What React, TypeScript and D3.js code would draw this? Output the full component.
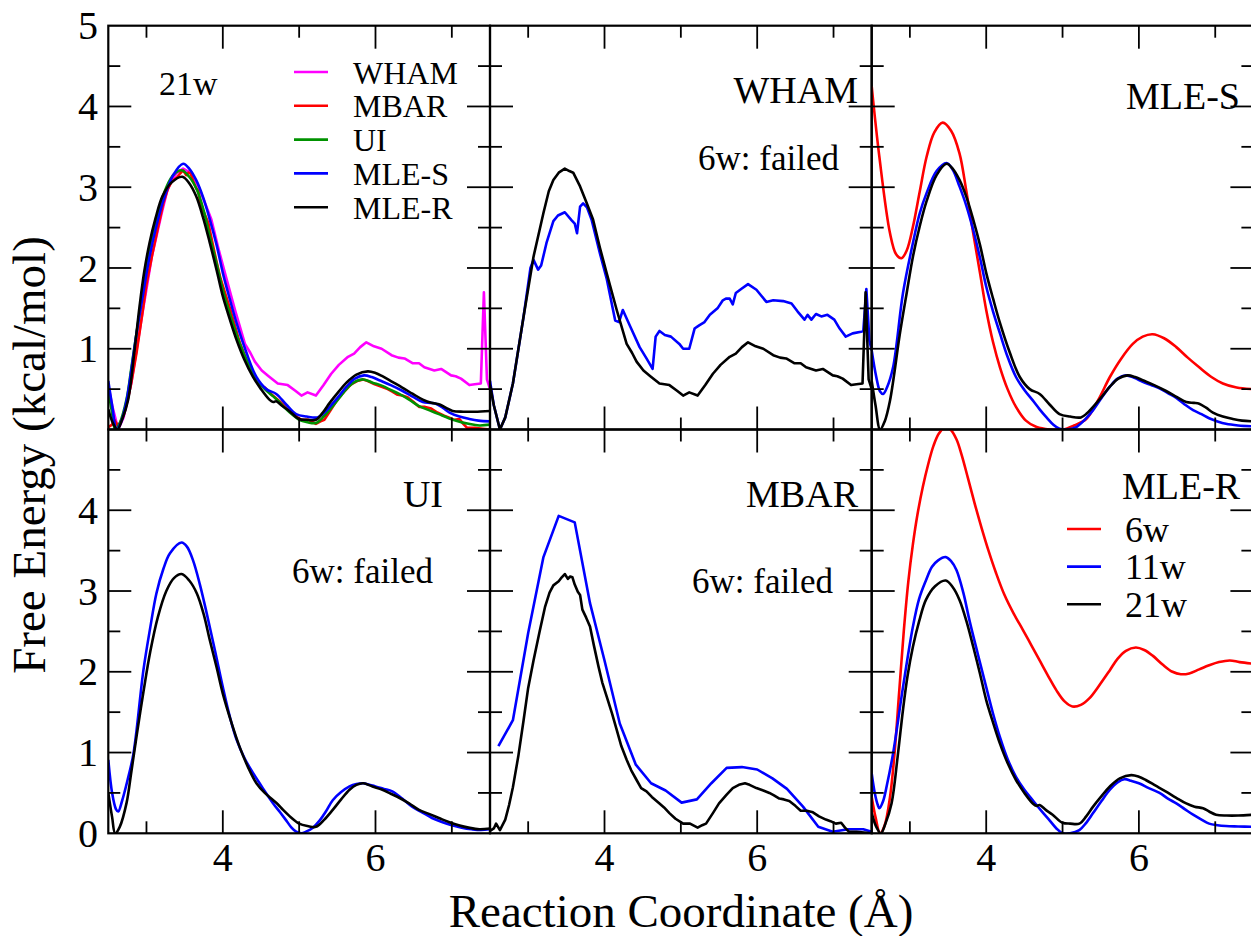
import React from "react";
import * as d3 from "d3";

type P = [number, number];

// ---------- DATA (reaction coordinate Å, free energy kcal/mol) ----------
const WHAM_21w: P[] = [[2.5,0.55],[2.55,0.3],[2.63,0.0],[2.7,0.15],[2.8,0.57],[2.94,1.40],[3.07,2.14],[3.2,2.68],[3.27,2.95],[3.33,3.09],[3.4,3.18],[3.48,3.23],[3.54,3.2],[3.59,3.18],[3.68,3.01],[3.76,2.82],[3.85,2.6],[3.94,2.25],[4.03,1.93],[4.16,1.48],[4.29,1.06],[4.36,0.95],[4.42,0.84],[4.51,0.73],[4.6,0.66],[4.72,0.57],[4.85,0.55],[4.95,0.48],[5.03,0.42],[5.11,0.46],[5.22,0.42],[5.32,0.55],[5.42,0.69],[5.52,0.8],[5.64,0.90],[5.72,0.94],[5.8,1.02],[5.88,1.08],[5.98,1.03],[6.08,1.0],[6.21,0.92],[6.3,0.89],[6.38,0.88],[6.49,0.82],[6.57,0.82],[6.64,0.77],[6.77,0.73],[6.86,0.75],[6.99,0.67],[7.05,0.66],[7.12,0.63],[7.23,0.55],[7.3,0.56],[7.38,0.57],[7.42,1.70],[7.46,0.62],[7.5,0.5]];
const WHAM_11w: P[] = [[2.5,0.6],[2.55,0.3],[2.63,0.0],[2.7,0.15],[2.8,0.57],[2.94,1.40],[3.03,2.0],[3.07,2.1],[3.13,1.98],[3.17,2.03],[3.24,2.31],[3.33,2.58],[3.39,2.65],[3.48,2.69],[3.57,2.59],[3.61,2.55],[3.64,2.43],[3.68,2.76],[3.72,2.80],[3.77,2.75],[3.83,2.6],[3.94,2.18],[4.03,1.86],[4.14,1.35],[4.19,1.33],[4.24,1.48],[4.34,1.27],[4.46,1.02],[4.55,0.88],[4.63,0.75],[4.67,1.15],[4.72,1.22],[4.79,1.17],[4.87,1.15],[4.98,1.06],[5.03,1.0],[5.11,1.0],[5.18,1.25],[5.24,1.29],[5.31,1.33],[5.38,1.42],[5.48,1.5],[5.55,1.6],[5.59,1.62],[5.64,1.62],[5.68,1.55],[5.72,1.69],[5.79,1.74],[5.88,1.80],[5.99,1.73],[6.12,1.58],[6.21,1.6],[6.34,1.59],[6.45,1.56],[6.53,1.46],[6.62,1.36],[6.66,1.42],[6.71,1.36],[6.77,1.43],[6.84,1.40],[6.92,1.42],[7.01,1.36],[7.08,1.25],[7.16,1.15],[7.25,1.19],[7.36,1.21],[7.39,1.22],[7.43,1.74],[7.47,1.1],[7.5,0.98]];

const MLES_6w: P[] = [[2.5,4.25],[2.6,3.38],[2.74,2.43],[2.82,2.17],[2.89,2.12],[2.96,2.22],[3.04,2.51],[3.13,2.95],[3.22,3.38],[3.32,3.68],[3.43,3.80],[3.54,3.7],[3.65,3.42],[3.74,2.95],[3.83,2.43],[3.92,1.93],[4.0,1.48],[4.09,1.08],[4.18,0.77],[4.28,0.5],[4.39,0.28],[4.52,0.11],[4.66,0.03],[4.83,0.0],[5.0,0.0],[5.15,0.05],[5.31,0.13],[5.47,0.37],[5.62,0.65],[5.77,0.88],[5.92,1.06],[6.05,1.15],[6.18,1.18],[6.33,1.13],[6.49,1.02],[6.64,0.89],[6.79,0.77],[6.95,0.65],[7.1,0.57],[7.28,0.52],[7.5,0.5]];
const MLES_11w: P[] = [[2.5,0.98],[2.56,0.65],[2.61,0.47],[2.65,0.44],[2.7,0.52],[2.78,0.77],[2.91,1.69],[3.04,2.31],[3.13,2.68],[3.22,2.93],[3.35,3.2],[3.48,3.30],[3.56,3.22],[3.65,3.01],[3.74,2.77],[3.83,2.47],[3.92,2.12],[4.0,1.77],[4.09,1.46],[4.18,1.19],[4.28,0.9],[4.39,0.65],[4.5,0.49],[4.61,0.36],[4.7,0.25],[4.79,0.15],[4.88,0.06],[4.96,0.01],[5.05,0.0],[5.18,0.03],[5.29,0.12],[5.4,0.24],[5.51,0.39],[5.62,0.53],[5.72,0.63],[5.83,0.67],[5.94,0.64],[6.05,0.59],[6.16,0.55],[6.27,0.51],[6.38,0.45],[6.49,0.39],[6.6,0.31],[6.71,0.24],[6.82,0.19],[6.92,0.14],[7.03,0.1],[7.14,0.07],[7.3,0.05],[7.5,0.04]];
const MLES_21w: P[] = [[2.5,0.6],[2.55,0.3],[2.61,0.0],[2.67,0.1],[2.74,0.36],[2.87,1.19],[2.96,1.7],[3.04,2.14],[3.13,2.52],[3.22,2.83],[3.35,3.15],[3.48,3.29],[3.56,3.23],[3.65,3.09],[3.74,2.88],[3.83,2.6],[3.92,2.28],[4.0,1.94],[4.09,1.62],[4.18,1.32],[4.31,0.95],[4.44,0.65],[4.57,0.5],[4.7,0.44],[4.83,0.31],[4.96,0.19],[5.1,0.16],[5.24,0.15],[5.32,0.2],[5.4,0.28],[5.51,0.4],[5.62,0.53],[5.73,0.63],[5.85,0.67],[5.95,0.65],[6.05,0.61],[6.2,0.55],[6.35,0.48],[6.5,0.4],[6.62,0.34],[6.72,0.33],[6.79,0.32],[6.88,0.27],[6.97,0.21],[7.1,0.16],[7.23,0.13],[7.35,0.11],[7.5,0.1]];

const UI_11w: P[] = [[2.5,0.91],[2.55,0.5],[2.6,0.3],[2.63,0.27],[2.68,0.4],[2.75,0.65],[2.83,0.99],[2.96,2.02],[3.05,2.55],[3.13,2.97],[3.22,3.27],[3.31,3.47],[3.46,3.60],[3.53,3.55],[3.61,3.38],[3.7,3.08],[3.79,2.72],[3.9,2.25],[4.0,1.81],[4.09,1.45],[4.18,1.16],[4.29,0.92],[4.4,0.74],[4.53,0.55],[4.66,0.37],[4.75,0.26],[4.83,0.16],[4.9,0.07],[4.96,0.02],[5.03,0.0],[5.09,0.02],[5.18,0.07],[5.27,0.16],[5.35,0.27],[5.44,0.41],[5.55,0.51],[5.66,0.58],[5.75,0.61],[5.84,0.62],[5.92,0.6],[6.0,0.58],[6.11,0.55],[6.22,0.52],[6.35,0.43],[6.48,0.33],[6.61,0.26],[6.74,0.19],[6.87,0.14],[7.0,0.1],[7.13,0.07],[7.26,0.05],[7.38,0.04],[7.5,0.05]];
const UI_21w: P[] = [[2.5,0.5],[2.55,0.2],[2.59,0.0],[2.65,0.08],[2.74,0.38],[2.8,0.75],[2.87,1.2],[2.96,1.75],[3.05,2.25],[3.15,2.68],[3.26,3.0],[3.36,3.16],[3.46,3.21],[3.56,3.13],[3.66,2.97],[3.75,2.71],[3.83,2.39],[3.92,2.05],[4.0,1.73],[4.11,1.38],[4.22,1.07],[4.33,0.82],[4.44,0.62],[4.55,0.5],[4.66,0.41],[4.72,0.36],[4.79,0.29],[4.89,0.2],[5.0,0.12],[5.11,0.09],[5.22,0.08],[5.33,0.17],[5.44,0.29],[5.55,0.42],[5.66,0.54],[5.75,0.6],[5.84,0.62],[5.96,0.58],[6.09,0.54],[6.2,0.49],[6.31,0.44],[6.44,0.37],[6.57,0.29],[6.7,0.24],[6.83,0.19],[6.96,0.14],[7.09,0.1],[7.22,0.07],[7.36,0.05],[7.5,0.06]];

const MBAR_11w: P[] = [[2.61,1.08],[2.8,1.40],[3.0,2.48],[3.2,3.42],[3.40,3.93],[3.61,3.85],[3.81,2.85],[4.0,2.14],[4.2,1.36],[4.41,0.85],[4.61,0.62],[4.80,0.53],[5.01,0.38],[5.21,0.42],[5.4,0.62],[5.60,0.81],[5.80,0.82],[6.0,0.79],[6.2,0.68],[6.39,0.55],[6.6,0.33],[6.8,0.08],[6.99,0.02],[7.19,0.05],[7.39,0.05],[7.5,0.02]];
const MBAR_21w: P[] = [[2.5,0.03],[2.55,0.06],[2.58,0.12],[2.63,0.04],[2.7,0.17],[2.75,0.35],[2.8,0.57],[2.87,0.95],[2.94,1.40],[3.0,1.8],[3.07,2.14],[3.15,2.5],[3.22,2.8],[3.28,2.98],[3.33,3.07],[3.4,3.12],[3.44,3.17],[3.48,3.21],[3.52,3.15],[3.55,3.18],[3.58,3.17],[3.61,3.08],[3.65,2.99],[3.68,2.95],[3.71,2.77],[3.76,2.67],[3.81,2.56],[3.86,2.33],[3.92,2.07],[3.97,1.87],[4.03,1.69],[4.1,1.48],[4.16,1.28],[4.22,1.08],[4.29,0.91],[4.35,0.78],[4.42,0.66],[4.48,0.56],[4.55,0.52],[4.62,0.45],[4.72,0.37],[4.78,0.32],[4.85,0.25],[4.93,0.18],[5.03,0.12],[5.12,0.12],[5.22,0.07],[5.28,0.1],[5.33,0.12],[5.42,0.25],[5.5,0.37],[5.6,0.48],[5.68,0.56],[5.76,0.6],[5.84,0.62],[5.9,0.6],[5.99,0.56],[6.08,0.53],[6.16,0.5],[6.22,0.47],[6.29,0.43],[6.35,0.42],[6.42,0.4],[6.5,0.34],[6.57,0.28],[6.65,0.28],[6.73,0.26],[6.81,0.21],[6.9,0.17],[6.96,0.15],[7.03,0.12],[7.1,0.13],[7.15,0.07],[7.2,0.02],[7.3,0.02],[7.4,0.01],[7.5,0.0]];

const MLER_6w: P[] = [[2.5,0.45],[2.55,0.2],[2.61,0.0],[2.67,0.1],[2.74,0.45],[2.8,1.0],[2.86,1.75],[2.92,2.5],[2.98,3.12],[3.04,3.58],[3.1,3.95],[3.17,4.29],[3.24,4.57],[3.31,4.8],[3.38,4.95],[3.46,5.03],[3.53,5.0],[3.61,4.88],[3.68,4.68],[3.76,4.4],[3.85,4.08],[3.94,3.78],[4.03,3.5],[4.13,3.22],[4.24,2.95],[4.36,2.72],[4.48,2.52],[4.59,2.33],[4.7,2.14],[4.81,1.95],[4.92,1.77],[5.03,1.63],[5.13,1.57],[5.24,1.59],[5.35,1.67],[5.48,1.83],[5.62,2.02],[5.72,2.16],[5.83,2.26],[5.96,2.30],[6.07,2.27],[6.18,2.2],[6.31,2.09],[6.44,2.0],[6.55,1.97],[6.66,1.98],[6.79,2.03],[6.92,2.08],[7.05,2.12],[7.19,2.14],[7.32,2.12],[7.5,2.1]];
const MLER_11w: P[] = [[2.5,0.74],[2.54,0.5],[2.58,0.35],[2.6,0.31],[2.65,0.4],[2.7,0.6],[2.78,0.99],[2.91,1.81],[3.04,2.56],[3.12,2.9],[3.21,3.13],[3.29,3.3],[3.37,3.38],[3.47,3.42],[3.54,3.37],[3.61,3.26],[3.7,2.98],[3.78,2.64],[3.89,2.22],[4.0,1.81],[4.09,1.48],[4.18,1.19],[4.28,0.92],[4.39,0.70],[4.5,0.54],[4.61,0.41],[4.72,0.28],[4.83,0.16],[4.92,0.06],[5.0,0.0],[5.1,0.0],[5.22,0.04],[5.31,0.13],[5.4,0.25],[5.51,0.4],[5.62,0.54],[5.72,0.63],[5.81,0.67],[5.9,0.65],[6.0,0.62],[6.13,0.56],[6.27,0.5],[6.38,0.43],[6.49,0.37],[6.6,0.3],[6.71,0.23],[6.82,0.17],[6.92,0.12],[7.03,0.1],[7.14,0.09],[7.3,0.085],[7.5,0.08]];
const MLER_21w: P[] = [[2.5,0.25],[2.56,0.08],[2.62,0.0],[2.68,0.12],[2.76,0.37],[2.84,0.95],[2.91,1.53],[2.97,1.95],[3.04,2.31],[3.12,2.62],[3.21,2.89],[3.33,3.06],[3.47,3.13],[3.56,3.05],[3.65,2.89],[3.74,2.63],[3.83,2.31],[3.92,1.97],[4.0,1.65],[4.09,1.37],[4.18,1.11],[4.28,0.87],[4.39,0.66],[4.5,0.5],[4.61,0.37],[4.66,0.34],[4.7,0.35],[4.78,0.29],[4.87,0.23],[5.0,0.13],[5.1,0.12],[5.22,0.12],[5.31,0.21],[5.4,0.33],[5.51,0.46],[5.62,0.58],[5.75,0.68],[5.9,0.72],[6.0,0.7],[6.09,0.66],[6.22,0.59],[6.35,0.52],[6.49,0.44],[6.62,0.37],[6.73,0.33],[6.84,0.31],[6.92,0.27],[7.01,0.23],[7.15,0.22],[7.3,0.22],[7.5,0.23]];

const X_DOMAIN: [number, number] = [2.5, 7.5];
const Y_DOMAIN: [number, number] = [0, 5];
const X_MAJOR = [4, 6];
const X_MINOR = [3, 5, 7];
const Y_MAJOR = [1, 2, 3, 4];
const Y_MINOR = [0.5, 1.5, 2.5, 3.5, 4.5];
const Y_LABELS_TOP = [1, 2, 3, 4, 5];
const Y_LABELS_BOTTOM = [0, 1, 2, 3, 4];
const LEGEND_21W = ["WHAM", "MBAR", "UI", "MLE-S", "MLE-R"];
const LEGEND_MLER = ["6w", "11w", "21w"];

// ---------- LAYOUT / STYLE ----------
const W = 1251, H = 936;
const X0 = 108.3, COLW = 381.7, TOP = 25.7, ROWH = 403.8;
const FONT = "'Liberation Serif', 'Times New Roman', 'DejaVu Serif', serif";
const C = { mag: "#ff00ff", red: "#ff0000", green: "#009200", blue: "#0000ff", black: "#000000" };

type S = { data: P[]; color: string; smooth: boolean };
type Panel = { col: number; row: number; series: S[] };

const panels: Panel[] = [
  { col: 0, row: 0, series: [
    { data: WHAM_21w, color: C.mag, smooth: false },
    { data: MBAR_21w, color: C.red, smooth: false },
    { data: UI_21w, color: C.green, smooth: true },
    { data: MLES_21w, color: C.blue, smooth: true },
    { data: MLER_21w, color: C.black, smooth: true },
  ]},
  { col: 1, row: 0, series: [
    { data: WHAM_11w, color: C.blue, smooth: false },
    { data: WHAM_21w, color: C.black, smooth: false },
  ]},
  { col: 2, row: 0, series: [
    { data: MLES_6w, color: C.red, smooth: true },
    { data: MLES_11w, color: C.blue, smooth: true },
    { data: MLES_21w, color: C.black, smooth: true },
  ]},
  { col: 0, row: 1, series: [
    { data: UI_11w, color: C.blue, smooth: true },
    { data: UI_21w, color: C.black, smooth: true },
  ]},
  { col: 1, row: 1, series: [
    { data: MBAR_11w, color: C.blue, smooth: false },
    { data: MBAR_21w, color: C.black, smooth: false },
  ]},
  { col: 2, row: 1, series: [
    { data: MLER_6w, color: C.red, smooth: true },
    { data: MLER_11w, color: C.blue, smooth: true },
    { data: MLER_21w, color: C.black, smooth: true },
  ]},
];

function scales(col: number, row: number) {
  const x = d3.scaleLinear().domain(X_DOMAIN).range([X0 + col * COLW, X0 + (col + 1) * COLW]);
  const y = d3.scaleLinear().domain(Y_DOMAIN).range([TOP + (row + 1) * ROWH, TOP + row * ROWH]);
  return { x, y };
}

function PanelView({ p, i }: { p: Panel; i: number }) {
  const { x, y } = scales(p.col, p.row);
  const [xl, xr] = x.range();
  const [yb, yt] = y.range();
  const MAJ = 23, MIN = 12;
  const ticks: any[] = [];
  const tk = (x1: number, y1: number, x2: number, y2: number, k: string) =>
    ticks.push(<line key={k} x1={x1} y1={y1} x2={x2} y2={y2} stroke="#000" strokeWidth={1.8} />);
  X_MAJOR.forEach((v) => { tk(x(v), yb, x(v), yb - MAJ, "xb" + v); tk(x(v), yt, x(v), yt + MAJ, "xt" + v); });
  X_MINOR.forEach((v) => { tk(x(v), yb, x(v), yb - MIN, "xbm" + v); tk(x(v), yt, x(v), yt + MIN, "xtm" + v); });
  Y_MAJOR.forEach((v) => { tk(xl, y(v), xl + MAJ, y(v), "yl" + v); tk(xr, y(v), xr - MAJ, y(v), "yr" + v); });
  Y_MINOR.forEach((v) => { tk(xl, y(v), xl + MIN, y(v), "ylm" + v); tk(xr, y(v), xr - MIN, y(v), "yrm" + v); });
  const clipId = "clip" + i;
  return (
    <g>
      <defs>
        <clipPath id={clipId}><rect x={xl} y={yt} width={xr - xl} height={yb - yt} /></clipPath>
      </defs>
      <g clipPath={`url(#${clipId})`}>
        {p.series.map((s, j) => {
          const gen = d3.line<P>().x((d) => x(d[0])).y((d) => y(d[1]))
            .curve(s.smooth ? d3.curveCatmullRom.alpha(0.5) : d3.curveLinear);
          return <path key={j} d={gen(s.data) || ""} fill="none" stroke={s.color} strokeWidth={2.6} strokeLinejoin="round" />;
        })}
      </g>
      {ticks}
      <rect x={xl} y={yt} width={xr - xl} height={yb - yt} fill="none" stroke="#000" strokeWidth={2.2} />
    </g>
  );
}

export default function App() {
  const s00 = scales(0, 0), s01 = scales(0, 1);
  const legendColors21 = [C.mag, C.red, C.green, C.blue, C.black];
  const legendColorsR = [C.red, C.blue, C.black];
  return (
    <svg width={W} height={H} style={{ position: "absolute", left: 0, top: 0, background: "#fff" }} fontFamily={FONT}>
      <rect x={0} y={0} width={W} height={H} fill="#fff" />
      {panels.map((p, i) => <PanelView key={i} p={p} i={i} />)}

      {/* y tick labels */}
      {Y_LABELS_TOP.map((v) => (
        <text key={"yt" + v} x={98} y={s00.y(v)} dy="0.34em" textAnchor="end" fontSize={40}>{v}</text>
      ))}
      {Y_LABELS_BOTTOM.map((v) => (
        <text key={"yb" + v} x={98} y={s01.y(v)} dy="0.34em" textAnchor="end" fontSize={40}>{v}</text>
      ))}
      {/* x tick labels */}
      {[0, 1, 2].map((c) => X_MAJOR.map((v) => (
        <text key={"x" + c + v} x={scales(c, 1).x(v)} y={871} textAnchor="middle" fontSize={40}>{v}</text>
      )))}

      {/* axis titles */}
      <text x={681} y={927} textAnchor="middle" fontSize={47}>Reaction Coordinate (Å)</text>
      <text transform="translate(45,455) rotate(-90)" textAnchor="middle" fontSize={47}>Free Energy (kcal/mol)</text>

      {/* panel annotations */}
      <text x={159} y={95} fontSize={34}>21w</text>
      {LEGEND_21W.map((t, k) => (
        <g key={t}>
          <line x1={294} x2={328} y1={72 + k * 33.8} y2={72 + k * 33.8} stroke={legendColors21[k]} strokeWidth={2.6} />
          <text x={353} y={72 + k * 33.8 + 11.5} fontSize={32}>{t}</text>
        </g>
      ))}
      <text x={858} y={103} textAnchor="end" fontSize={38}>WHAM</text>
      <text x={698} y={170} fontSize={35}>6w: failed</text>
      <text x={1240} y={109} textAnchor="end" fontSize={38}>MLE-S</text>
      <text x={443} y={507} textAnchor="end" fontSize={38}>UI</text>
      <text x={292} y={583} fontSize={35}>6w: failed</text>
      <text x={858} y={507} textAnchor="end" fontSize={38}>MBAR</text>
      <text x={692} y={593} fontSize={35}>6w: failed</text>
      <text x={1122} y={499} fontSize={38}>MLE-R</text>
      {LEGEND_MLER.map((t, k) => (
        <g key={t}>
          <line x1={1067} x2={1101} y1={529 + k * 37.6} y2={529 + k * 37.6} stroke={legendColorsR[k]} strokeWidth={2.6} />
          <text x={1125} y={529 + k * 37.6 + 12.5} fontSize={36}>{t}</text>
        </g>
      ))}
    </svg>
  );
}
